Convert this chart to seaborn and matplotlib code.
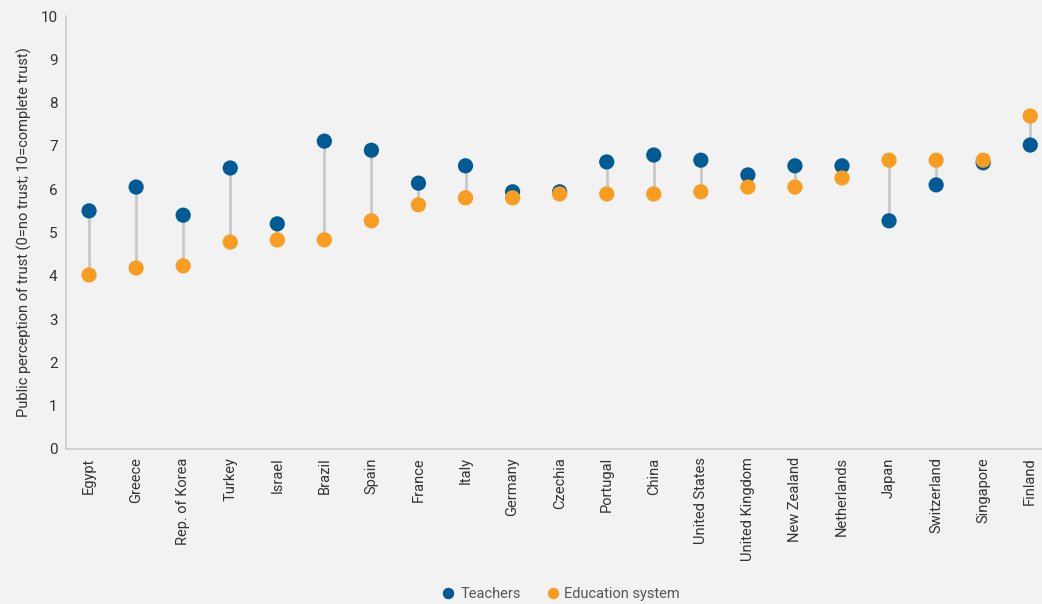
import matplotlib
matplotlib.use("Agg")
import matplotlib.pyplot as plt
import seaborn as sns
import pandas as pd

countries = ["Egypt", "Greece", "Rep. of Korea", "Turkey", "Israel", "Brazil", "Spain",
             "France", "Italy", "Germany", "Czechia", "Portugal", "China", "United States",
             "United Kingdom", "New Zealand", "Netherlands", "Japan", "Switzerland",
             "Singapore", "Finland"]
teachers = [5.50, 6.05, 5.40, 6.49, 5.20, 7.11, 6.90, 6.14, 6.54, 5.94, 5.94, 6.63,
            6.79, 6.67, 6.33, 6.54, 6.54, 5.27, 6.10, 6.61, 7.02]
education = [4.02, 4.18, 4.23, 4.78, 4.83, 4.83, 5.27, 5.64, 5.80, 5.80, 5.89, 5.89,
             5.89, 5.94, 6.05, 6.05, 6.26, 6.67, 6.67, 6.67, 7.69]
series_names = ["Teachers", "Education system"]
yticks = list(range(0, 11))

BG = "#f2f2f2"
BLUE = "#005a94"
ORANGE = "#f99d22"

sns.set_theme(style="white")
plt.rcParams["font.family"] = ["Roboto", "DejaVu Sans"]

df = pd.DataFrame({
    "country": countries * 2,
    "value": teachers + education,
    "series": [series_names[0]] * len(countries) + [series_names[1]] * len(countries),
})

fig = plt.figure(figsize=(10.42, 6.04), dpi=100, facecolor=BG)
ax = fig.add_axes([66 / 1042, (604 - 449) / 604, (1042 - 66) / 1042, (449 - 16) / 604])
ax.set_facecolor(BG)

xpos = list(range(len(countries)))
ax.vlines(xpos, [min(a, b) for a, b in zip(teachers, education)],
          [max(a, b) for a, b in zip(teachers, education)],
          color="#c8c8c8", linewidth=2, zorder=1)

sns.scatterplot(data=df, x="country", y="value", hue="series", hue_order=series_names,
                palette=[BLUE, ORANGE], s=120, edgecolor="none", ax=ax, zorder=3,
                legend=True)

ax.set_xlim(-0.49, 20.25)
ax.set_ylim(0, 10)
ax.set_yticks(yticks)
ax.set_yticklabels([str(t) for t in yticks], fontsize=11, color="#333333")
ax.set_xticks(xpos)
ax.set_xticklabels(countries, rotation=90, fontsize=10.5, color="#333333")
ax.tick_params(axis="both", length=0, pad=6)
ax.set_xlabel("")
ax.set_ylabel("Public perception of trust (0=no trust; 10=complete trust)",
              fontsize=10.5, color="#333333", labelpad=6)

for s in ["top", "right"]:
    ax.spines[s].set_visible(False)
for s in ["left", "bottom"]:
    ax.spines[s].set_color("#cccccc")
    ax.spines[s].set_linewidth(1.2)

leg = ax.legend(loc="center", bbox_to_anchor=(0.506, (604 - 594 - 155) / 433), ncol=2,
                frameon=False, fontsize=10.5, handletextpad=0.2, columnspacing=1.6,
                markerscale=0.75, handlelength=1.2)
for t in leg.get_texts():
    t.set_color("#555555")

fig.savefig("out.png", dpi=100, facecolor=BG)
